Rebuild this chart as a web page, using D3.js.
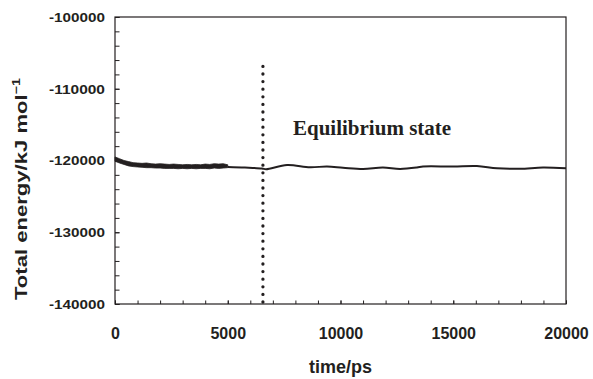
<!DOCTYPE html>
<html>
<head>
<meta charset="utf-8">
<script src="https://cdn.jsdelivr.net/npm/d3@7"></script>
<style>
  body { margin: 0; background: #fff; }
  svg { display: block; }
</style>
</head>
<body>
<div id="canvas"></div>
<script>
"use strict"

/* Drawing configuration */
let svgWidth = 593;
let svgHeight = 379;

let marginLeft = 115;
let marginRight = 27;
let marginTop = 17;
let marginBottom = 75;

let inkColor = "#231f20";

/* Data */
// noisy start of the run: upper and lower edge of the thick band (kJ/mol)
let bandTimes = [0, 200, 400, 600, 800, 1000, 1200, 1400, 1600, 1800, 2000, 2200, 2400,
    2600, 2800, 3000, 3200, 3400, 3600, 3800, 4000, 4200, 4400, 4600, 4800, 5000];
let bandUpper = [-119500, -119750, -120000, -120150, -120300, -120350, -120400, -120350,
    -120450, -120500, -120450, -120500, -120550, -120500, -120550, -120600, -120550,
    -120600, -120550, -120600, -120500, -120550, -120450, -120500, -120450, -120600];
let bandLower = [-120100, -120350, -120550, -120750, -120850, -120900, -120950, -121000,
    -121000, -121050, -121050, -121100, -121100, -121100, -121150, -121100, -121150,
    -121100, -121150, -121100, -121100, -121150, -121050, -121100, -121050, -121000];

// smooth part of the run
let lineTimes = [5000, 5760, 6520, 6700, 7630, 8650, 9400, 10110, 11000, 11880, 12640,
    13390, 13660, 15000, 16050, 16940, 17960, 18980, 20000];
let lineEnergy = [-120900, -120980, -121110, -121220, -120630, -120950, -120830, -121000,
    -121180, -120980, -121180, -120980, -120840, -120840, -120770, -121090, -121160,
    -120980, -121090];

let dividerTime = 6560;
let dividerTop = -106600;

let xMajorTicks = [0, 5000, 10000, 15000, 20000];
let xMinorTicks = d3.range(0, 20001, 1000);
let yMajorTicks = [-100000, -110000, -120000, -130000, -140000];
let yMinorTicks = d3.range(-140000, -99999, 2000);

/* Canvas */
let svg = d3.select("#canvas")
    .append("svg")
    .attr("width", svgWidth)
    .attr("height", svgHeight);

let xScale = d3.scaleLinear()
    .domain([0, 20000])
    .range([marginLeft, svgWidth - marginRight]);

let yScale = d3.scaleLinear()
    .domain([-140000, -100000])
    .range([svgHeight - marginBottom, marginTop]);

/* Axes: ticks point inward */
let xMinor = svg.append("g")
    .attr("transform", "translate(0," + (svgHeight - marginBottom) + ")")
    .call(d3.axisBottom(xScale).tickValues(xMinorTicks).tickSize(-3.5).tickFormat(""));

let xAxis = svg.append("g")
    .attr("transform", "translate(0," + (svgHeight - marginBottom) + ")")
    .call(d3.axisBottom(xScale).tickValues(xMajorTicks).tickSize(-3.5)
        .tickPadding(23.6).tickFormat(d3.format("d")));

let yMinor = svg.append("g")
    .attr("transform", "translate(" + marginLeft + ",0)")
    .call(d3.axisLeft(yScale).tickValues(yMinorTicks).tickSize(-4.5).tickFormat(""));

let yAxis = svg.append("g")
    .attr("transform", "translate(" + marginLeft + ",0)")
    .call(d3.axisLeft(yScale).tickValues(yMajorTicks).tickSize(-4.5)
        .tickPadding(10).tickFormat(function(d) { return String(d); }));

svg.selectAll(".domain").remove();
svg.selectAll(".tick line").attr("stroke", inkColor).attr("stroke-width", 1);

xAxis.selectAll("text")
    .attr("fill", inkColor)
    .attr("font-family", "'Liberation Sans', Arial, sans-serif")
    .attr("font-weight", "bold")
    .attr("font-size", "16px");

yAxis.selectAll("text")
    .attr("fill", inkColor)
    .attr("font-family", "'Liberation Sans', Arial, sans-serif")
    .attr("font-weight", "bold")
    .attr("font-size", "13.5px")
    .attr("textLength", 56)
    .attr("lengthAdjust", "spacingAndGlyphs");

/* Plot frame */
svg.append("rect")
    .attr("x", xScale(0))
    .attr("y", yScale(-100000))
    .attr("width", xScale(20000) - xScale(0))
    .attr("height", yScale(-140000) - yScale(-100000))
    .attr("fill", "none")
    .attr("stroke", inkColor)
    .attr("stroke-width", 1.2);

/* Noisy band */
let band = bandTimes.map(function(t, i) {
    return {t: t, hi: bandUpper[i], lo: bandLower[i]};
});

let area = d3.area()
    .x(function(d) { return xScale(d.t); })
    .y0(function(d) { return yScale(d.lo); })
    .y1(function(d) { return yScale(d.hi); });

svg.append("path")
    .datum(band)
    .attr("d", area)
    .attr("fill", inkColor)
    .attr("stroke", inkColor)
    .attr("stroke-width", 0.8);

/* Smooth line */
let smooth = lineTimes.map(function(t, i) {
    return {t: t, e: lineEnergy[i]};
});

let line = d3.line()
    .curve(d3.curveCatmullRom)
    .x(function(d) { return xScale(d.t); })
    .y(function(d) { return yScale(d.e); });

svg.append("path")
    .datum(smooth)
    .attr("d", line)
    .attr("fill", "none")
    .attr("stroke", inkColor)
    .attr("stroke-width", 2);

/* Dotted divider */
svg.append("line")
    .attr("x1", xScale(dividerTime))
    .attr("x2", xScale(dividerTime))
    .attr("y1", yScale(-140000) - 2)
    .attr("y2", yScale(dividerTop))
    .attr("stroke", inkColor)
    .attr("stroke-width", 3.3)
    .attr("stroke-linecap", "round")
    .attr("stroke-dasharray", "0 7.6");

svg.append("text")
    .attr("x", 293)
    .attr("y", 135)
    .attr("fill", inkColor)
    .attr("font-family", "'Liberation Serif', 'Times New Roman', serif")
    .attr("font-weight", "bold")
    .attr("font-size", "21px")
    .text("Equilibrium state");

/**** axis titles ****/
svg.append("text")
    .attr("x", (xScale(0) + xScale(20000)) / 2)
    .attr("y", 373)
    .attr("text-anchor", "middle")
    .attr("fill", inkColor)
    .attr("font-family", "'Liberation Sans', Arial, sans-serif")
    .attr("font-weight", "bold")
    .attr("font-size", "18px")
    .text("time/ps");

let yTitle = svg.append("text")
    .attr("transform", "translate(27,189) rotate(-90)")
    .attr("text-anchor", "middle")
    .attr("fill", inkColor)
    .attr("font-family", "'Liberation Sans', Arial, sans-serif")
    .attr("font-weight", "bold")
    .attr("font-size", "17px")
    .attr("textLength", 222)
    .attr("lengthAdjust", "spacingAndGlyphs");

yTitle.append("tspan").text("Total energy/kJ mol");
yTitle.append("tspan")
    .attr("font-size", "11px")
    .attr("dy", "-7")
    .text("\u22121");
</script>
</body>
</html>
